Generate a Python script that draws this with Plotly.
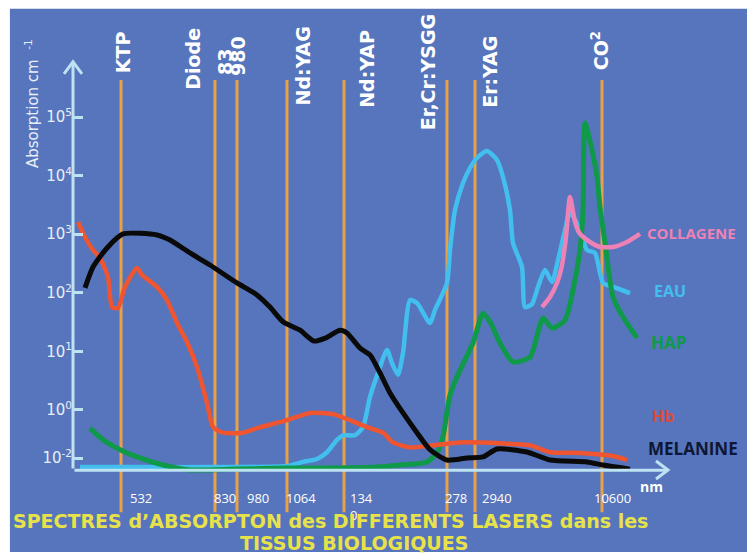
import plotly.graph_objects as go

# position le long de l'axe horizontal (échelle du schéma, non linéaire en nm)
lasers = ["KTP", "Diode", "980", "Nd:YAG", "Nd:YAP", "Er,Cr:YSGG", "Er:YAG", "CO2"]
laser_pos = [48, 142, 164, 214, 271, 374, 402, 529]

# courbes d'absorption (cm-1)
melanine_x = [12, 20, 34, 50, 84, 97, 117, 137, 164, 184, 197, 210, 227, 241, 253, 267, 274,
              287, 297, 307, 317, 330, 344, 357, 374, 394, 410, 424, 454, 477, 514, 530, 557]
melanine_y = [121, 275, 582, 1010, 970, 795, 478, 298, 147, 92, 57, 32, 23, 15, 17, 23, 20.6,
              11.4, 8.7, 4.3, 1.95, 0.89, 0.41, 0.21, 0.14, 0.152, 0.158, 0.216, 0.192, 0.14, 0.13, 0.115, 0.098]

hb_x = [5, 12, 20, 27, 35, 39, 45, 52, 64, 69, 84, 94, 104, 114, 124, 134, 140, 150, 170, 184,
        214, 237, 260, 277, 294, 310, 320, 337, 360, 387, 427, 457, 477, 507, 540, 554]
hb_y = [1615, 896, 537, 393, 186, 57, 55, 126, 265, 201, 126, 75, 30.5, 14.5, 5.4, 1.32, 0.51, 0.41, 0.41, 0.49,
        0.67, 0.89, 0.85, 0.67, 0.51, 0.41, 0.28, 0.23, 0.25, 0.28, 0.27, 0.25, 0.19, 0.185, 0.164, 0.14]

eau_x = [7, 64, 130, 214, 230, 244, 254, 264, 270, 282, 290, 297, 305, 314, 319, 325, 330, 337, 344,
         357, 362, 374, 377, 382, 390, 397, 404, 414, 424, 430, 437, 440, 449, 452, 459, 465, 472,
         479, 485, 492, 497, 507, 514, 522, 530, 540, 557]
eau_y = [0.106, 0.106, 0.106, 0.111, 0.13, 0.146, 0.19, 0.31, 0.37, 0.37, 0.51, 1.67, 4.3, 10.6, 6.3, 4.0, 9.4,
         75, 67, 30.5, 51, 147, 537, 2590, 7480, 13480, 19950, 26300, 18450, 9460, 2590, 708, 275, 57, 64,
         126, 245, 153, 363, 1180, 2390, 1180, 537, 478, 147, 126, 99]

hap_x = [17, 30, 47, 64, 90, 117, 164, 214, 257, 304, 327, 354, 364, 370, 377, 387, 400, 410, 417,
         427, 440, 457, 470, 479, 492, 500, 507, 510, 512, 519, 524, 527, 532, 540, 550, 564]
hap_y = [0.49, 0.31, 0.21, 0.158, 0.115, 0.095, 0.098, 0.102, 0.102, 0.106, 0.115, 0.13, 0.185, 0.35, 1.8,
         4.8, 13.9, 45, 32, 13.9, 6.6, 8.0, 37, 25, 34, 112, 537, 2590, 79000, 27300, 9460, 2910, 708,
         85, 38.6, 17]

collagene_x = [469, 477, 484, 489, 493, 497, 502, 507, 517, 527, 540, 554, 567]
collagene_y = [57, 85, 147, 298, 896, 4310, 1615, 1010, 736, 605, 605, 736, 1010]

y_tickvals = [0.151, 1, 10, 100, 1e3, 1e4, 1e5]
y_ticktext = ["10<sup>-2</sup>", "10<sup>0</sup>", "10<sup>1</sup>", "10<sup>2</sup>",
              "10<sup>3</sup>", "10<sup>4</sup>", "10<sup>5</sup>"]

nm_labels = ["532", "830", "980", "1064", "134<br>0", "278", "2940", "10600"]
nm_label_pos = [55, 139, 172, 211, 275, 370, 407, 519]

BLUE = "#5675BC"
AXIS = "#BDE2F2"
ORANGE = "#E9A148"
LABEL_FONT = "DejaVu Sans"

fig = go.Figure()

# traits verticaux des lasers
for p in laser_pos:
    fig.add_trace(go.Scatter(x=[p, p], y=[4.3e5, 0.018], mode="lines",
                             line=dict(color=ORANGE, width=3), hoverinfo="skip"))

curves = [
    (eau_x, eau_y, "#42BFEE", 4.5),
    (hap_x, hap_y, "#0E9A48", 5),
    (hb_x, hb_y, "#EE5530", 4.5),
    (collagene_x, collagene_y, "#EE82B6", 4.5),
    (melanine_x, melanine_y, "#0A0A0A", 5),
]
for xs, ys, c, w in curves:
    fig.add_trace(go.Scatter(x=xs, y=ys, mode="lines",
                             line=dict(color=c, width=w, shape="spline", smoothing=0.6),
                             hoverinfo="skip"))

ann = []
# axes (traits), les pointes sont dessinées en formes
ann.append(dict(x=0, y=5.94, xref="x", yref="y", ax=0, ay=408, text="", showarrow=True,
                arrowhead=0, arrowwidth=3, arrowcolor=AXIS, standoff=0))
ann.append(dict(x=595, y=-1.03, xref="x", yref="y", ax=-595, ay=0, text="", showarrow=True,
                arrowhead=0, arrowwidth=3, arrowcolor=AXIS, standoff=0))

# noms des lasers (verticaux)
laser_labels = ["KTP", "Diode", "83", "980", "Nd:YAG", "Nd:YAP", "Er,Cr:YSGG", "Er:YAG", "CO<sup>2</sup>"]
label_x = [50, 120, 152, 165, 230, 294, 355, 417, 527]
label_bottom = [0.926, 0.891, 0.922, 0.92, 0.857, 0.853, 0.806, 0.853, 0.931]
for t, xp, yb in zip(laser_labels, label_x, label_bottom):
    ann.append(dict(x=xp, y=yb, xref="x", yref="paper", text="<b>%s</b>" % t, textangle=-90,
                    showarrow=False, xanchor="center", yanchor="bottom",
                    font=dict(family=LABEL_FONT, size=19, color="white")))

# longueurs d'onde sous l'axe
for t, xp in zip(nm_labels, nm_label_pos):
    ann.append(dict(x=xp, y=0.058, xref="x", yref="paper", text=t, showarrow=False,
                    xanchor="left", yanchor="top", align="left",
                    font=dict(family="Open Sans", size=13, color="white")))
ann.append(dict(x=0.973, y=0.059, xref="paper", yref="paper", text="<b>nm</b>", showarrow=False,
                xanchor="center", yanchor="middle",
                font=dict(family="Open Sans", size=14, color="white")))

# noms des courbes
curve_labels = [("COLLAGENE", 1.040, 0.594, "#EE82B6", 15), ("EAU", 1.003, 0.472, "#42BFEE", 16),
                ("HAP", 1.0, 0.364, "#0E9A48", 17), ("Hb", 0.992, 0.208, "#DA4A38", 16),
                ("MELANINE", 1.042, 0.139, "#0D1633", 17)]
for t, xp, yp, c, s in curve_labels:
    ann.append(dict(x=xp, y=yp, xref="paper", yref="paper", text="<b>%s</b>" % t, showarrow=False,
                    xanchor="center", yanchor="middle",
                    font=dict(family="Open Sans", size=s, color=c)))

# titre de l'axe
ann.append(dict(x=-0.069, y=0.867, xref="paper", yref="paper", text="Absorption cm  <sup>-1</sup>",
                textangle=-90, showarrow=False, xanchor="center", yanchor="middle",
                font=dict(family=LABEL_FONT, size=15, color="#E8EEF8")))

# titre en bas
ann.append(dict(x=0.433, y=-0.0126, xref="paper", yref="paper",
                text="<b>SPECTRES d\u2019ABSORPTON des DIFFERENTS LASERS dans les</b>", showarrow=False,
                xanchor="center", yanchor="middle",
                font=dict(family=LABEL_FONT, size=19, color="#E8E24A")))
ann.append(dict(x=0.473, y=-0.059, xref="paper", yref="paper", text="<b>TISSUS BIOLOGIQUES</b>",
                showarrow=False, xanchor="center", yanchor="middle",
                font=dict(family=LABEL_FONT, size=19, color="#E8E24A")))

# fond bleu + pointes de flèches en chevron
shapes = [dict(type="rect", xref="paper", yref="paper", x0=-0.106, x1=1.2, y0=-0.078, y1=1.066,
               fillcolor=BLUE, line=dict(width=0), layer="below"),
          dict(type="path", xref="paper", yref="paper", xsizemode="pixel", ysizemode="pixel",
               xanchor=0, yanchor=0.954, path="M-9,-12 L0,0 L9,-12",
               line=dict(color=AXIS, width=3)),
          dict(type="path", xref="paper", yref="paper", xsizemode="pixel", ysizemode="pixel",
               xanchor=1.0, yanchor=0.0947, path="M-12,9 L0,0 L-12,-9",
               line=dict(color=AXIS, width=3))]

fig.update_layout(
    width=747, height=546,
    margin=dict(l=65, r=87, t=32, b=39),
    paper_bgcolor="white", plot_bgcolor="rgba(0,0,0,0)",
    showlegend=False,
    annotations=ann,
    shapes=shapes,
    xaxis=dict(range=[0, 595], showgrid=False, zeroline=False, showticklabels=False, showline=False,
               automargin=False),
    yaxis=dict(type="log", range=[-1.792, 6.314], showgrid=False, zeroline=False, showline=False,
               automargin=False,
               tickvals=y_tickvals, ticktext=y_ticktext, ticks="inside", ticklen=10, tickwidth=3,
               tickcolor=AXIS, tickfont=dict(family=LABEL_FONT, size=15, color="#E8EEF8")),
)

fig.write_html("out.html")
